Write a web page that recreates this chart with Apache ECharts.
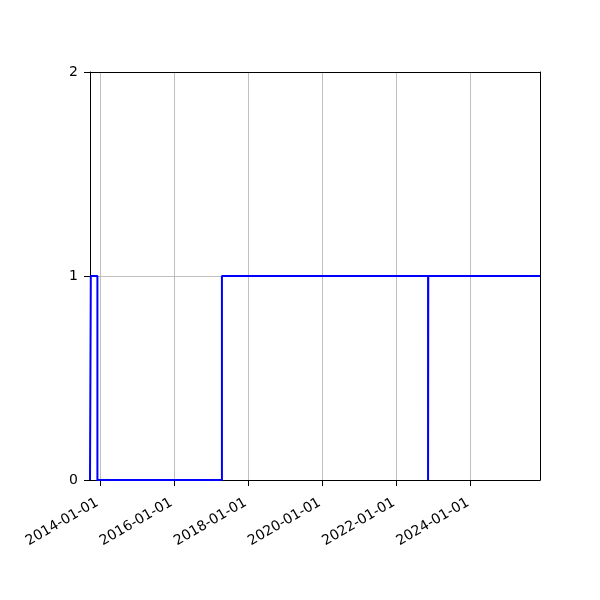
<!DOCTYPE html>
<html><head><meta charset="utf-8">
<script src="https://cdn.jsdelivr.net/npm/echarts@6/dist/echarts.min.js"></script>
<style>html,body{margin:0;padding:0;background:#fff}#c{width:600px;height:600px}</style>
</head><body><div id="c"></div>
<script>
const dates = ['2013-09-25','2013-10-03','2013-12-07','2017-04-17','2022-11-08','2022-11-10','2025-11-15'];
const values = [0,1,0,1,0,1,1];
const tickDates = ['2014-01-01','2016-01-01','2018-01-01','2020-01-01','2022-01-01','2024-01-01'];
const yTicks = [0,1,2];
const xMin = '2013-09-25', xMax = '2025-11-15';

const ts = s => new Date(s + 'T00:00:00Z').getTime();
const pad = n => String(n).padStart(2,'0');
const fmt = v => { const d = new Date(v); return d.getUTCFullYear()+'-'+pad(d.getUTCMonth()+1)+'-'+pad(d.getUTCDate()); };
const tickVals = tickDates.map(ts);

const spine = {show:true,onZero:false,lineStyle:{color:'#000',width:1}};
const chart = echarts.init(document.getElementById('c'), null, {renderer:'canvas'});
chart.setOption({
  animation:false,
  backgroundColor:'#fff',
  textStyle:{fontFamily:'DejaVu Sans'},
  grid:{left:90,right:60,top:72,bottom:120,show:false,containLabel:false},
  xAxis:[{
    type:'value', min:ts(xMin), max:ts(xMax), scale:true, position:'bottom',
    axisLine:spine,
    axisTick:{show:true,length:6,lineStyle:{color:'#000'},customValues:tickVals},
    axisLabel:{show:true,color:'#000',fontSize:14,rotate:30,margin:12,verticalAlign:'top',align:'right',padding:[0,7,0,0],customValues:tickVals,formatter:v=>fmt(v),hideOverlap:false,showMinLabel:true,showMaxLabel:true},
    splitLine:{show:true,lineStyle:{color:'#b0b0b0',width:0.8}}
  },{
    type:'value', min:ts(xMin), max:ts(xMax), scale:true, position:'top',
    axisLine:spine, axisTick:{show:false}, axisLabel:{show:false}, splitLine:{show:false}
  }],
  yAxis:[{
    type:'value', min:0, max:2, interval:1, position:'left',
    axisLine:spine,
    axisTick:{show:true,length:6,lineStyle:{color:'#000'}},
    axisLabel:{color:'#000',fontSize:14,margin:12,formatter:v=>yTicks.includes(v)?String(v):''},
    splitLine:{show:true,lineStyle:{color:'#b0b0b0',width:0.8}}
  },{
    type:'value', min:0, max:2, interval:1, position:'right',
    axisLine:spine, axisTick:{show:false}, axisLabel:{show:false}, splitLine:{show:false}
  }],
  series:[{
    type:'line', step:'end', showSymbol:false, symbol:'none', xAxisIndex:0, yAxisIndex:0,
    lineStyle:{color:'#0000ff',width:2},
    data:dates.map((d,i)=>[ts(d),values[i]])
  }]
});
</script></body></html>
